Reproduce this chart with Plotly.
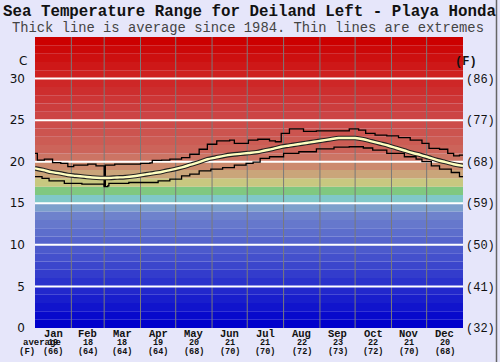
import plotly.graph_objects as go

# ---------------- data ----------------
months = ["Jan", "Feb", "Mar", "Apr", "May", "Jun", "Jul", "Aug", "Sep", "Oct", "Nov", "Dec"]
month_avg_c = [19, 18, 18, 19, 20, 21, 21, 22, 23, 22, 21, 20]
month_avg_f = [66, 64, 64, 64, 68, 70, 70, 72, 73, 72, 70, 68]
month_start_days = [0, 31, 59, 90, 120, 151, 181, 212, 243, 273, 304, 334, 365]

avg_days = [0, 7, 14, 21, 28, 35, 42, 49, 56, 63, 70, 77, 84, 91, 98, 105, 112, 119, 126,
            133, 140, 147, 154, 161, 168, 175, 182, 189, 196, 203, 210, 217, 224, 231,
            238, 245, 252, 259, 266, 273, 280, 287, 294, 301, 308, 315, 322, 329, 336,
            343, 350, 357, 365]
avg_vals = [19.2, 19.0, 18.75, 18.6, 18.4, 18.3, 18.2, 18.1, 18.05, 18.05, 18.1, 18.15,
            18.25, 18.4, 18.55, 18.7, 18.9, 19.1, 19.35, 19.65, 19.95, 20.3, 20.5, 20.7,
            20.85, 20.95, 21.05, 21.15, 21.35, 21.55, 21.8, 21.95, 22.1, 22.25, 22.4,
            22.55, 22.7, 22.85, 22.85, 22.85, 22.7, 22.45, 22.2, 21.95, 21.65, 21.35,
            21.05, 20.8, 20.5, 20.2, 19.95, 19.7, 19.5]

max_days = [0, 2, 8, 15, 22, 28, 33, 45, 52, 59, 60, 68, 75, 90, 98, 100, 108, 115, 125,
            132, 140, 147, 155, 166, 170, 178, 182, 190, 200, 205, 210, 217, 229, 240,
            255, 268, 276, 282, 290, 300, 310, 320, 330, 336, 345, 352, 357, 362, 365]
max_vals = [21.0, 20.2, 20.3, 19.9, 19.8, 19.4, 19.6, 19.7, 19.5, 17.1, 19.6, 19.7, 19.7,
            19.8, 19.85, 20.15, 20.2, 20.3, 20.5, 20.9, 21.5, 22.1, 22.5, 22.6, 22.2,
            22.2, 22.6, 22.7, 22.5, 22.4, 23.4, 23.95, 23.65, 23.7, 23.7, 23.95, 23.8,
            23.4, 23.2, 23.1, 22.9, 22.6, 22.2, 21.6, 21.5, 21.0, 20.7, 20.8, 20.8]

min_days = [0, 6, 12, 25, 40, 55, 59, 62, 63, 80, 95, 105, 115, 125, 132, 140, 150, 160,
            170, 180, 186, 192, 200, 212, 225, 240, 255, 268, 280, 288, 300, 315, 325,
            330, 338, 345, 355, 362, 365]
min_vals = [18.2, 18.0, 17.7, 17.4, 17.3, 17.3, 17.0, 17.1, 17.4, 17.5, 17.5, 17.7, 17.9,
            18.3, 18.5, 18.9, 19.1, 19.3, 19.6, 19.8, 19.95, 20.4, 20.6, 21.0, 21.2,
            21.55, 21.75, 21.8, 21.65, 21.4, 21.0, 20.6, 20.3, 20.0, 19.5, 19.1, 18.7,
            18.2, 18.2]

c_ticks = [0, 5, 10, 15, 20, 25, 30]
f_ticks = ["(32)", "(41)", "(50)", "(59)", "(68)", "(77)", "(86)"]

# ---------------- styling helpers ----------------
BG = "#e6e6fa"
MONO = "Liberation Mono, Courier New, monospace"

key_cols = {0: (0, 0, 204), 13: (110, 130, 204), 14: (125, 160, 204), 15: (128, 200, 200),
            16: (128, 200, 128), 17: (200, 200, 128), 18: (202, 165, 122), 19: (204, 138, 110),
            20: (204, 116, 100), 21: (204, 100, 90), 25: (204, 68, 68), 30: (206, 32, 32),
            34: (204, 0, 0)}
keys = sorted(key_cols)


def band_color(t):
    for a, b in zip(keys[:-1], keys[1:]):
        if a <= t <= b:
            f = (t - a) / (b - a)
            ca, cb = key_cols[a], key_cols[b]
            return "rgb(%d,%d,%d)" % tuple(round(ca[i] + (cb[i] - ca[i]) * f) for i in range(3))
    return "rgb(204,0,0)"


shapes = []
for t in range(35):
    shapes.append(dict(type="rect", xref="paper", yref="y", x0=0, x1=1, y0=t, y1=t + 1,
                       fillcolor=band_color(t), line=dict(width=0), layer="below"))
for d in month_start_days[1:-1]:
    shapes.append(dict(type="line", xref="x", yref="paper", x0=d, x1=d, y0=0, y1=1,
                       line=dict(color="#7a7a7a", width=1), layer="below"))
for t in c_ticks[1:]:
    shapes.append(dict(type="line", xref="paper", yref="y", x0=0, x1=1, y0=t, y1=t,
                       line=dict(color="white", width=2), layer="below"))

L, R, T, B = 35, 37, 37, 34
PW, PH = 500 - L - R, 362 - T - B
shapes.append(dict(type="line", xref="paper", yref="paper",
                   x0=(496.5 - L) / PW, x1=(496.5 - L) / PW, y0=-B / PH, y1=1 + T / PH,
                   line=dict(color="#666666", width=1.5)))

fig = go.Figure()
fig.add_trace(go.Scatter(x=max_days, y=max_vals, mode="lines", line=dict(color="black", width=1.3, shape="hv"),
                         hoverinfo="skip"))
fig.add_trace(go.Scatter(x=min_days, y=min_vals, mode="lines", line=dict(color="black", width=1.3, shape="hv"),
                         hoverinfo="skip"))
fig.add_trace(go.Scatter(x=avg_days, y=avg_vals, mode="lines", line=dict(color="#222222", width=4.6, shape="spline"),
                         hoverinfo="skip"))
fig.add_trace(go.Scatter(x=avg_days, y=avg_vals, mode="lines", line=dict(color="#ffffc0", width=2.4, shape="spline"),
                         hoverinfo="skip"))
# invisible trace for right axis
fig.add_trace(go.Scatter(x=[0], y=[0], yaxis="y2", mode="markers", marker=dict(opacity=0),
                         hoverinfo="skip"))

annotations = []
mid_days = [(a + b) / 2 for a, b in zip(month_start_days[:-1], month_start_days[1:])]
for d, m, c, f in zip(mid_days, months, month_avg_c, month_avg_f):
    annotations.append(dict(x=d, y=(328 - 334) / PH, xref="x", yref="paper", text="<b>%s</b>" % m,
                            showarrow=False, font=dict(family=MONO, size=10.5, color="#111"),
                            yanchor="middle"))
    annotations.append(dict(x=d, y=(328 - 343) / PH, xref="x", yref="paper", text="<b>%d</b>" % c,
                            showarrow=False, font=dict(family=MONO, size=8.5, color="#111"),
                            yanchor="middle"))
    annotations.append(dict(x=d, y=(328 - 352) / PH, xref="x", yref="paper", text="<b>(%d)</b>" % f,
                            showarrow=False, font=dict(family=MONO, size=8.5, color="#111"),
                            yanchor="middle"))
annotations.append(dict(x=(21 - L) / PW, y=(328 - 343) / PH, xref="paper", yref="paper",
                        text="<b>average</b>", showarrow=False,
                        font=dict(family=MONO, size=9, color="#111"), yanchor="middle"))
annotations.append(dict(x=(17 - L) / PW, y=(328 - 352) / PH, xref="paper", yref="paper",
                        text="<b>(F)</b>", showarrow=False,
                        font=dict(family=MONO, size=9, color="#111"), yanchor="middle"))
annotations.append(dict(x=(17 - L) / PW, y=(328 - 61) / PH, xref="paper", yref="paper",
                        text="C", showarrow=False,
                        font=dict(family="DejaVu Sans", size=12, color="#111"), yanchor="middle"))
annotations.append(dict(x=(479 - L) / PW, y=(328 - 62) / PH, xref="paper", yref="paper",
                        text="<b>(F)</b>", showarrow=False,
                        font=dict(family=MONO, size=12, color="#111"), yanchor="middle"))
annotations.append(dict(x=(249 - L) / PW, y=(328 - 12) / PH, xref="paper", yref="paper",
                        text="<b>Sea Temperature Range for Deiland Left - Playa Honda</b>",
                        showarrow=False, font=dict(family=MONO, size=15.8, color="#111"),
                        yanchor="middle"))
annotations.append(dict(x=(248 - L) / PW, y=(328 - 28) / PH, xref="paper", yref="paper",
                        text="Thick line is average since 1984. Thin lines are extremes",
                        showarrow=False, font=dict(family=MONO, size=13.8, color="#444"),
                        yanchor="middle"))

fig.update_layout(
    width=500, height=362,
    margin=dict(l=L, r=R, t=T, b=B, autoexpand=False),
    paper_bgcolor=BG, plot_bgcolor=BG,
    showlegend=False,
    shapes=shapes,
    annotations=annotations,
    xaxis=dict(range=[0, 365], showgrid=False, zeroline=False, showticklabels=False,
               ticks="", showline=False, fixedrange=True, automargin=False),
    yaxis=dict(range=[0, 35], tickvals=c_ticks, ticktext=[str(v) for v in c_ticks],
               showgrid=False, zeroline=False, ticks="", ticklabelstandoff=9, automargin=False,
               tickfont=dict(family="DejaVu Sans", size=12, color="#111"), showline=False),
    yaxis2=dict(range=[0, 35], overlaying="y", side="right", tickvals=c_ticks, ticktext=f_ticks,
                showgrid=False, zeroline=False, ticks="", ticklabelstandoff=2, automargin=False,
                tickfont=dict(family=MONO, size=12, color="#111"), showline=False),
)

fig.write_html("out.html", config={"displayModeBar": False},
               post_script="document.body.style.margin='0';document.body.style.overflow='hidden';")
